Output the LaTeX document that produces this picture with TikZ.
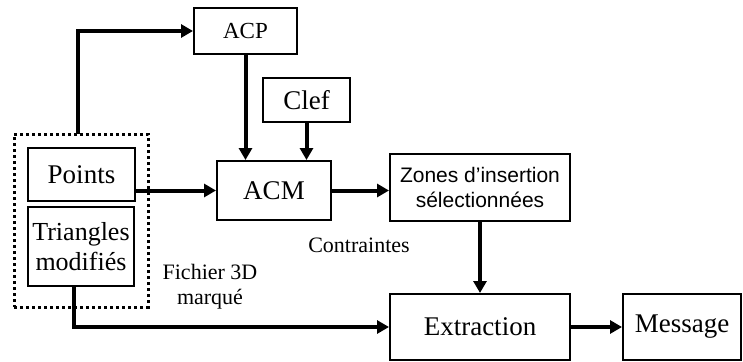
\documentclass[tikz,border=0pt]{standalone}
\usepackage{fontspec}
\setmainfont{Liberation Serif}
\newfontfamily\zonesfont{Liberation Sans}
\usetikzlibrary{arrows.meta,calc}
\tikzset{
  box/.style={draw, line width=2pt, inner sep=0pt, align=center},
  arr/.style={line width=4pt, -{Triangle[length=12pt,width=13pt]}},
  lbl/.style={inner sep=0pt, align=center, font=\fontsize{22}{25}\selectfont},
}
\begin{document}
\begin{tikzpicture}[x=1pt,y=1pt]
\useasboundingbox (0,0) rectangle (743,-361);
\node[box, minimum width=103pt, minimum height=46pt, font=\fontsize{23}{26}\selectfont] (acp) at (245.5,-31) {ACP};
\node[box, minimum width=87pt, minimum height=44pt, font=\fontsize{27}{30}\selectfont] (clef) at (306.5,-100) {Clef};
\node[box, minimum width=114pt, minimum height=59pt, font=\fontsize{27}{30}\selectfont] (acm) at (274,-190.5) {ACM};
\node[box, minimum width=107pt, minimum height=53pt, font=\fontsize{27}{30}\selectfont] (pts) at (81.5,-174.5) {Points};
\node[box, minimum width=106pt, minimum height=79pt, font=\fontsize{26}{30}\selectfont] (tri) at (81,-246.5) {Triangles\\modifiés};
\node[draw, line width=3pt, dash pattern=on 3pt off 3pt, minimum width=134pt, minimum height=173pt, inner sep=0pt] (fich) at (81,-220.5) {};
\node[box, minimum width=180pt, minimum height=67pt, font=\zonesfont\fontsize{21}{25}\selectfont] (zones) at (480,-187.5) {Zones d’insertion\\sélectionnées};
\node[box, minimum width=180pt, minimum height=66pt, font=\fontsize{27}{30}\selectfont] (extr) at (480,-327) {Extraction};
\node[box, minimum width=118pt, minimum height=66pt, font=\fontsize{27}{30}\selectfont] (msg) at (682,-327) {Message};
\node[lbl] (contr) at (359,-245) {Contraintes};
\node[lbl] (fichlbl) at (210,-287) {Fichier 3D\\marqué};
\coordinate (pup) at (78,-134);
\draw[arr] (pup) |- (acp.west);
\draw[arr] (acp.south) -- (acp.south |- acm.north);
\draw[arr] (clef.south) -- (clef.south |- acm.north);
\draw[arr] (pts.east |- acm.west) -- (acm.west);
\draw[arr] (acm.east) -- (acm.east -| zones.west);
\draw[arr] (zones.south) -- (extr.north);
\draw[arr] ($(tri.south)+(-7,0)$) |- (extr.west);
\draw[arr] (extr.east) -- (msg.west);
\end{tikzpicture}
\end{document}
